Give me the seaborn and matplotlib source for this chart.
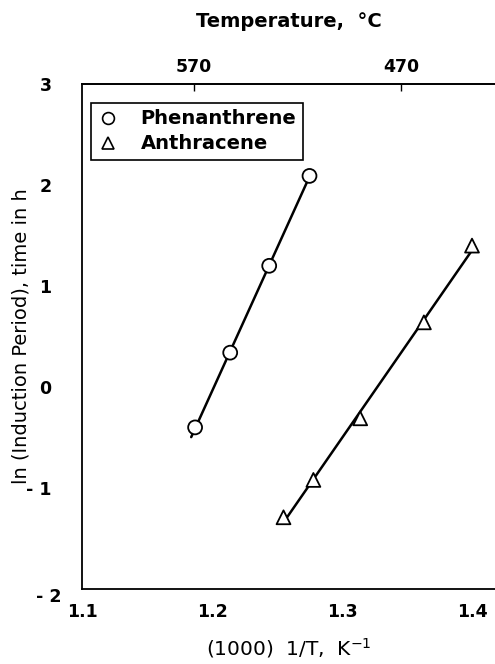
import numpy as np
import pandas as pd
import matplotlib
matplotlib.use("Agg")
import matplotlib.pyplot as plt
import matplotlib.transforms as mtransforms
import seaborn as sns
from matplotlib.lines import Line2D

# Data
phen_x = [1.187, 1.214, 1.244, 1.275]
phen_y = [-0.40, 0.34, 1.20, 2.09]
anth_x = [1.255, 1.278, 1.314, 1.363, 1.400]
anth_y = [-1.29, -0.92, -0.31, 0.64, 1.40]
series_names = ["Phenanthrene", "Anthracene"]
x_ticks = [1.1, 1.2, 1.3, 1.4]
y_ticks = [-2, -1, 0, 1, 2, 3]
top_ticks_c = [570, 470]

sns.set_theme(style="white")
plt.rcParams['font.family'] = ['DejaVu Sans']
plt.rcParams['text.color'] = 'black'

df = pd.concat([
    pd.DataFrame({"x": phen_x, "y": phen_y, "s": series_names[0]}),
    pd.DataFrame({"x": anth_x, "y": anth_y, "s": series_names[1]}),
])

fig = plt.figure(figsize=(4.95, 6.64), dpi=100)
ax = fig.add_axes([82/495, 75/664, 1 - 82/495, (589 - 84)/664])

# regression lines
for xs, ys, ext in [(phen_x, phen_y, 0.003), (anth_x, anth_y, 0.0)]:
    k, b = np.polyfit(xs, ys, 1)
    xl = np.array([min(xs) - ext, max(xs)])
    sns.lineplot(x=xl, y=k * xl + b, ax=ax, color="black", lw=1.8, legend=False)

sns.scatterplot(data=df, x="x", y="y", style="s", markers={"Phenanthrene": "o", "Anthracene": "^"},
                s=100, facecolor="white", edgecolor="black", linewidth=1.3, ax=ax, zorder=5, legend=False)

ax.set_xlim(1.1, 1.1 + (495 - 82) / 1300)
ax.set_ylim(-2, 3)
ax.set_xticks(x_ticks)
ax.set_yticks(y_ticks)
ax.set_xticklabels([f"{t:.1f}" for t in x_ticks], fontsize=12.5, fontweight="bold")
ax.set_yticklabels([("- " + str(abs(t))) if t < 0 else str(t) for t in y_ticks], fontsize=12.5, fontweight="bold")
ax.tick_params(direction="in", length=4, width=1, colors="black")
ax.tick_params(axis="y", pad=22)
ax.tick_params(axis="x", pad=10)
# the "-2" label sits lower and further right in the reference
lab = ax.get_yticklabels()[0]
lab.set_transform(lab.get_transform() + mtransforms.ScaledTranslation(10/100, -6/100, fig.dpi_scale_trans))
for sp in ["left", "bottom", "top"]:
    ax.spines[sp].set_color("black")
    ax.spines[sp].set_linewidth(1.3)
ax.spines["right"].set_visible(False)

ax.set_xlabel("(1000)  1/T,  K$^{\\mathregular{-1}}$", fontsize=14.5, labelpad=11, color="black")
ax.set_ylabel("ln (Induction Period), time in h", fontsize=14, color="black")
ax.yaxis.set_label_coords((31 - 82) / 413, 0.5)

# secondary top axis
f = lambda x: 1000.0 / np.asarray(x, dtype=float) - 273.15
g = lambda c: 1000.0 / (np.asarray(c, dtype=float) + 273.15)
sec = ax.secondary_xaxis("top", functions=(f, g))
sec.set_xticks(top_ticks_c)
sec.set_xticklabels([str(t) for t in top_ticks_c], fontsize=12.5, fontweight="bold")
sec.tick_params(direction="in", length=5, width=1, colors="black", pad=6)
sec.spines["top"].set_linewidth(1.3)
sec.set_xlabel("Temperature,  °C", fontsize=14, fontweight="bold", labelpad=22, color="black")

# legend
handles = [Line2D([], [], marker="o", ls="none", mfc="white", mec="black", ms=8.5, mew=1.2),
           Line2D([], [], marker="^", ls="none", mfc="white", mec="black", ms=8.5, mew=1.2)]
leg = ax.legend(handles, series_names, loc="upper left", bbox_to_anchor=(0.022, 0.963),
                frameon=True, fancybox=False, edgecolor="black", framealpha=1,
                prop={"weight": "bold", "size": 14}, handletextpad=1.2, borderpad=0.35,
                labelspacing=0.3, handlelength=1.0, borderaxespad=0, labelcolor="black")
leg.get_frame().set_linewidth(1.2)

fig.savefig("out.png", dpi=100)
